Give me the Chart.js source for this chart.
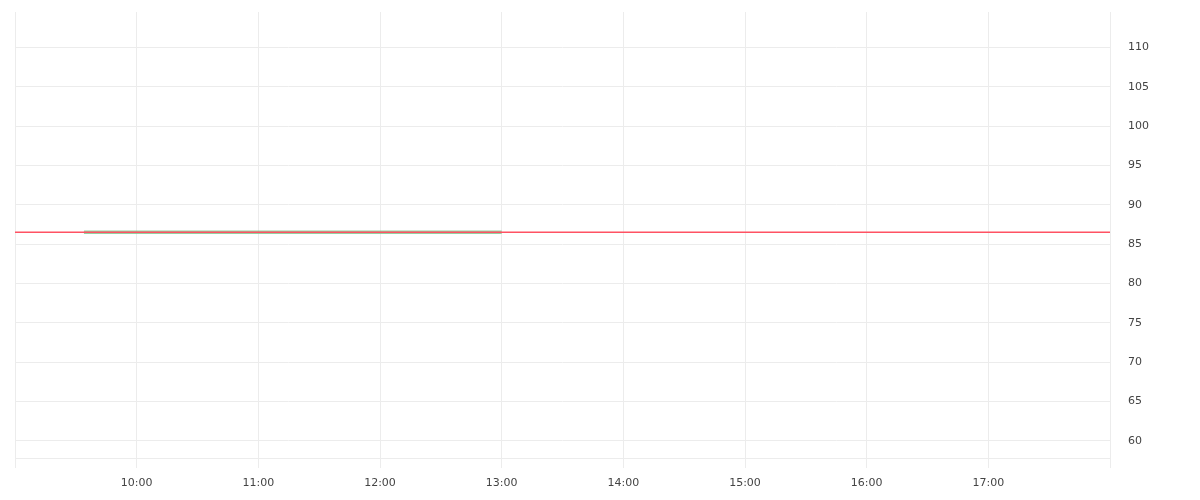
<!DOCTYPE html>
<html>
<head>
<meta charset="utf-8">
<script src="https://cdn.jsdelivr.net/npm/chart.js@4/dist/chart.umd.min.js"></script>
<style>
  html, body { margin: 0; padding: 0; background: #fff; }
  #wrap { width: 1200px; height: 500px; }
</style>
</head>
<body>
<div id="wrap"><canvas id="priceChart"></canvas></div>
<script>
// session window and ticks
const sessionStart = '09:00';
const sessionEnd = '18:00';
const hourTicks = ['09:00', '10:00', '11:00', '12:00', '13:00', '14:00', '15:00', '16:00', '17:00', '18:00'];
const yTicks = [60, 65, 70, 75, 80, 85, 90, 95, 100, 105, 110];

// price series (flat all morning)
const times = ['09:34', '10:00', '10:30', '11:00', '11:30', '12:00', '12:30', '13:00'];
const prices = [86.5, 86.5, 86.5, 86.5, 86.5, 86.5, 86.5, 86.5];

// last price line across the session
const lastPrice = 86.5;

const yMin = 57.8;
const yMax = 114.5;

function toMin(t) {
    const [h, m] = t.split(':').map(Number);
    return h * 60 + m;
}
function fmt(v) {
    const h = Math.floor(v / 60), m = v % 60;
    return String(h).padStart(2, '0') + ':' + String(m).padStart(2, '0');
}

const gridColor = '#ececec';
const tickFont = { family: 'DejaVu Sans', size: 11 };

const ctx = document.getElementById('priceChart');
new Chart(ctx, {
    type: 'line',
    data: {
        datasets: [
            {
                label: 'last',
                data: [
                    { x: toMin(sessionStart), y: lastPrice },
                    { x: toMin(sessionEnd), y: lastPrice }
                ],
                borderColor: '#ff5263',
                borderWidth: 1.4,
                pointRadius: 0,
                order: 0
            },
            {
                label: 'price',
                data: times.map((t, i) => ({ x: toMin(t), y: prices[i] })),
                borderColor: 'rgba(120,198,140,0.8)',
                borderWidth: 3.6,
                borderCapStyle: 'butt',
                pointRadius: 0,
                order: 1
            }
        ]
    },
    options: {
        responsive: true,
        maintainAspectRatio: false,
        animation: false,
        layout: { padding: { left: 15, top: 12, right: 0, bottom: 0 } },
        plugins: {
            legend: { display: false },
            tooltip: { enabled: false }
        },
        scales: {
            x: {
                type: 'linear',
                min: toMin(sessionStart),
                max: toMin(sessionEnd),
                afterBuildTicks: (s) => { s.ticks = hourTicks.map(t => ({ value: toMin(t) })); },
                afterFit: (s) => { s.height = 42; s.paddingLeft = 0; s.paddingRight = 0; },
                grid: { color: gridColor, tickLength: 10, tickColor: gridColor },
                border: { display: true, color: gridColor },
                ticks: {
                    font: tickFont,
                    color: '#444',
                    padding: 9,
                    maxRotation: 0,
                    callback: (v) => (v === toMin(sessionStart) || v === toMin(sessionEnd)) ? '' : fmt(v)
                }
            },
            y: {
                position: 'right',
                min: yMin,
                max: yMax,
                afterBuildTicks: (s) => { s.ticks = yTicks.map(v => ({ value: v })); },
                afterFit: (s) => { s.width = 90; s.paddingTop = 0; s.paddingBottom = 0; },
                grid: { color: gridColor, drawTicks: false },
                border: { display: false },
                ticks: {
                    font: tickFont,
                    color: '#444',
                    padding: 18
                }
            }
        }
    }
});
</script>
</body>
</html>
